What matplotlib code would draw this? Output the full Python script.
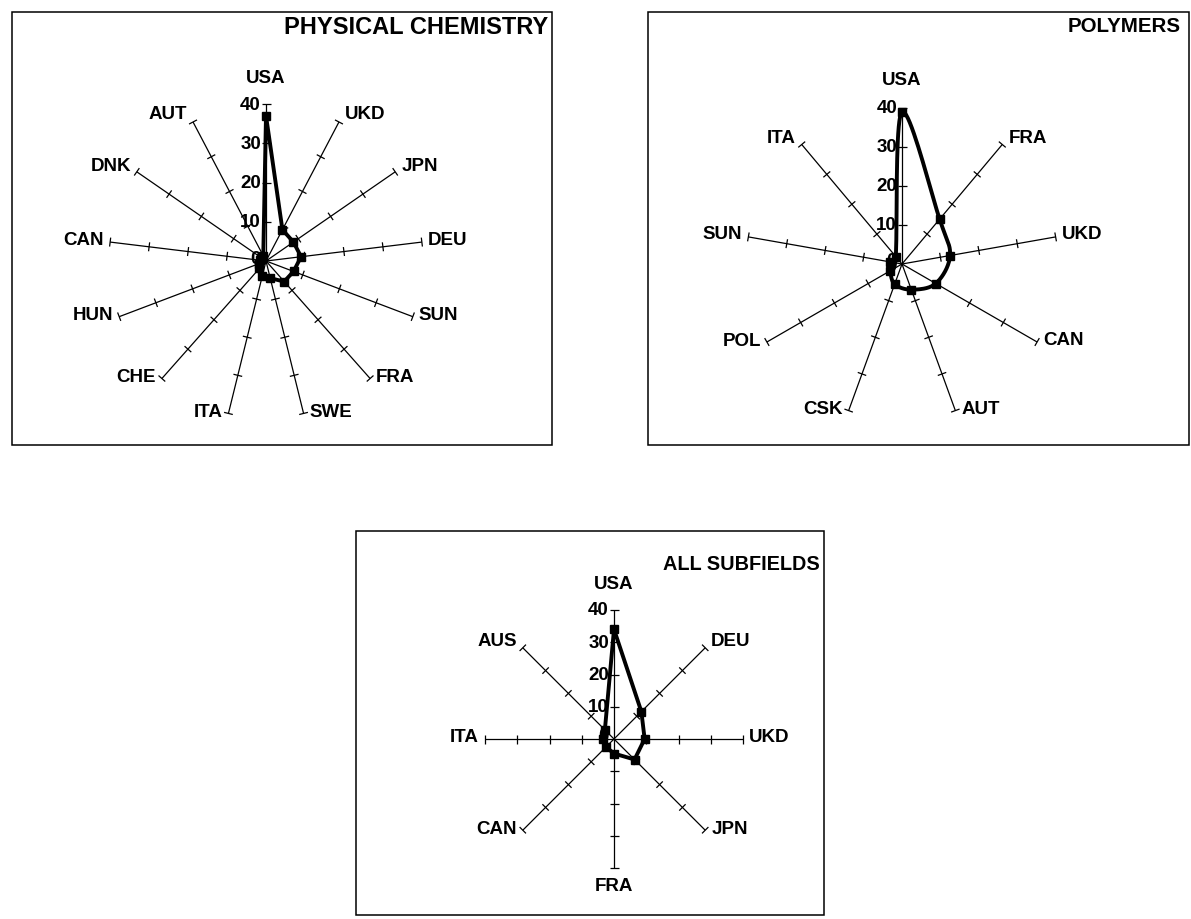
import numpy as np
import matplotlib
matplotlib.use("Agg")
import matplotlib.pyplot as plt
from matplotlib.collections import LineCollection
from matplotlib.patches import Rectangle

plt.rcParams['font.family'] = ['Liberation Sans', 'DejaVu Sans']
plt.rcParams['font.weight'] = 'bold'

# ---- data -------------------------------------------------------------
phys_countries = ["USA", "UKD", "JPN", "DEU", "SUN", "FRA", "SWE",
                  "ITA", "CHE", "HUN", "CAN", "DNK", "AUT"]
phys_share = [37, 9, 8.5, 9, 7.5, 7, 4.5, 4, 2.5, 2, 1.5, 1.5, 1.5]

poly_countries = ["USA", "FRA", "UKD", "CAN", "AUT", "CSK", "POL", "SUN", "ITA"]
poly_share = [39, 15, 12.5, 10, 7, 5.5, 3.5, 3, 2.5]

all_countries = ["USA", "DEU", "UKD", "JPN", "FRA", "CAN", "ITA", "AUS"]
all_share = [34, 12, 9.5, 9, 4.5, 3.5, 3.5, 4]

scale_ticks = [0, 10, 20, 30, 40]
scale_max = 40

W, H = 1191, 920
fig = plt.figure(figsize=(W / 100, H / 100), dpi=100)
fig.patch.set_facecolor("white")

LABEL_FS = 13.5


def fig_box(x0, y0, x1, y1):
    """Thin frame around a panel, given in pixel coordinates from the top-left."""
    fig.add_artist(Rectangle((x0 / W, 1 - y1 / H), (x1 - x0) / W, (y1 - y0) / H,
                             transform=fig.transFigure, fill=False,
                             edgecolor="black", linewidth=1.1))


def catmull_rom_closed(px, py, n=20):
    pts = np.column_stack([px, py])
    m = len(pts)
    out = []
    for i in range(m):
        p0, p1, p2, p3 = pts[(i - 1) % m], pts[i], pts[(i + 1) % m], pts[(i + 2) % m]
        t = np.linspace(0, 1, n, endpoint=False)[:, None]
        seg = 0.5 * ((2 * p1) + (-p0 + p2) * t
                     + (2 * p0 - 5 * p1 + 4 * p2 - p3) * t ** 2
                     + (-p0 + 3 * p1 - 3 * p2 + p3) * t ** 3)
        out.append(seg)
    out.append(pts[:1])
    out = np.vstack(out)
    return out[:, 0], out[:, 1]


def radar(cx, cy, R, countries, values, usa_gap, smooth=False):
    """Spider chart centred at pixel (cx, cy) with 40 units spanning R pixels."""
    h = R * 1.3
    ax = fig.add_axes([(cx - h) / W, (H - cy - h) / H, 2 * h / W, 2 * h / H])
    lim = scale_max * 1.3
    ax.set_xlim(-lim, lim)
    ax.set_ylim(-lim, lim)
    ax.axis("off")

    upx = scale_max / R          # value units per pixel
    n = len(countries)
    ang = 2 * np.pi * np.arange(n) / n
    sx, sy = np.sin(ang), np.cos(ang)

    # spokes
    spokes = [[(0, 0), (scale_max * a, scale_max * b)] for a, b in zip(sx, sy)]
    ax.add_collection(LineCollection(spokes, colors="black", linewidths=0.9))

    # cross ticks along each spoke, with a cap at the outer end
    half = 4.5 * upx
    ticks = []
    for a, b in zip(sx, sy):
        for r in scale_ticks[1:]:
            px, py = r * a, r * b
            ticks.append([(px - half * b, py + half * a), (px + half * b, py - half * a)])
    ax.add_collection(LineCollection(ticks, colors="black", linewidths=0.9))

    # scale labels along the first spoke
    for r in scale_ticks:
        ax.annotate(str(r), xy=(0, r), xytext=(-5, 0 if r else 3),
                    textcoords="offset pixels", ha="right", va="center",
                    fontsize=LABEL_FS, color="black")

    # country labels
    for name, a, b in zip(countries, sx, sy):
        end = (scale_max * a, scale_max * b)
        if b > 0.99:
            ax.annotate(name, xy=end, xytext=(0, usa_gap), textcoords="offset pixels",
                        ha="center", va="bottom", fontsize=LABEL_FS)
        elif b < -0.99:
            ax.annotate(name, xy=end, xytext=(0, -9), textcoords="offset pixels",
                        ha="center", va="top", fontsize=LABEL_FS)
        else:
            dx = 6 if a > 0 else -6
            dy = 2 + 7 * max(b, 0)
            ax.annotate(name, xy=end, xytext=(dx, dy), textcoords="offset pixels",
                        ha="left" if a > 0 else "right", va="center",
                        fontsize=LABEL_FS)

    # data outline
    v = np.asarray(values, dtype=float)
    x, y = v * sx, v * sy
    if smooth:
        lx, ly = catmull_rom_closed(x, y)
    else:
        lx, ly = np.append(x, x[0]), np.append(y, y[0])
    ax.plot(lx, ly, color="black", linewidth=2.8, solid_joinstyle="round", zorder=3)
    ax.plot(x, y, linestyle="none", marker="s", markersize=5.8,
            color="black", zorder=4)
    return ax


# panel frames
fig_box(12, 13, 552, 446)
fig_box(648, 13, 1189, 446)
fig_box(356, 532, 824, 916)

radar(266, 262, 157, phys_countries, phys_share, usa_gap=18)
radar(902, 265, 156, poly_countries, poly_share, usa_gap=20, smooth=True)
radar(614, 740, 129, all_countries, all_share, usa_gap=18)

# panel titles
fig.text(548 / W, 1 - 27 / H, "PHYSICAL CHEMISTRY", ha="right", va="center",
         fontsize=17)
fig.text(1181 / W, 1 - 27 / H, "POLYMERS", ha="right", va="center",
         fontsize=14.8)
fig.text(820 / W, 1 - 564 / H, "ALL SUBFIELDS", ha="right", va="center",
         fontsize=14.3)

fig.savefig("out.png", dpi=100, facecolor="white")
